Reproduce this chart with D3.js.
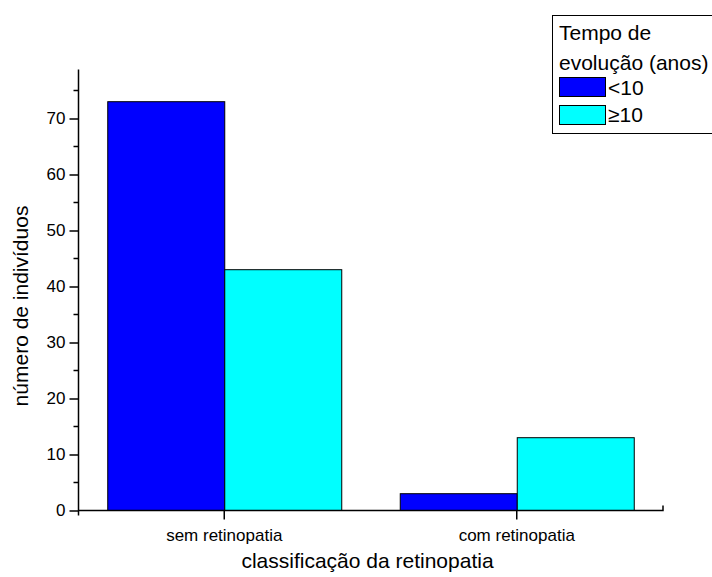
<!DOCTYPE html>
<meta charset="utf-8">
<head>
  <title>Retinopatia</title>
</head>
<body style="margin:0">
<style>
text { font-family: "Liberation Sans", Arial, sans-serif; fill: #000; }
.bar { stroke: #000; stroke-width: 1; }
</style>
<svg width="712" height="577"></svg>
<script src="https://d3js.org/d3.v7.min.js"></script>
<script>

var categories = ["sem retinopatia", "com retinopatia"];
var series = ["<10", "\u226510"];
var under10 = [73, 3];
var over10 = [43, 13];
var yTicks = [0, 10, 20, 30, 40, 50, 60, 70];
var colors = ["#0000ff", "#00ffff"];

var svg = d3.select("svg"),
    x0 = 78, x1 = 663, yTop = 69, yBot = 510;

var x = d3.scaleBand().domain(categories).range([x0, x1]).padding(0);
var y = d3.scaleLinear().domain([0, 78.75]).range([yBot, yTop]);

var rows = categories.map(function(c, i) { return { cat: c, vals: [under10[i], over10[i]] }; });
var bw = x.bandwidth() * 0.4;

// bars
var g = svg.append("g");
rows.forEach(function(r) {
  r.vals.forEach(function(v, j) {
    var cx = x(r.cat) + x.bandwidth() / 2;
    g.append("rect")
      .attr("class", "bar")
      .attr("x", cx + (j - 1) * bw + 0.5)
      .attr("y", y(v) + 0.5)
      .attr("width", bw)
      .attr("height", y(0) - y(v))
      .attr("fill", colors[j]);
  });
});

// y axis
var yAxis = svg.append("g")
  .attr("transform", "translate(" + (x0 + 0.5) + ",0.5)")
  .call(d3.axisLeft(y).tickValues(yTicks).tickSize(9).tickPadding(4));
yAxis.select(".domain").attr("d", "M0," + y(0) + "V" + yTop).attr("stroke-width", 1.5);
yAxis.selectAll(".tick line").attr("stroke-width", 1.5);
yAxis.selectAll(".tick text").style("font-size", "17px").style("font-family", "'Liberation Sans', Arial, sans-serif");
yAxis.selectAll(".minor")
  .data(yTicks.map(function(t) { return t + 5; }))
  .enter().append("line")
  .attr("x1", -5).attr("x2", 0)
  .attr("y1", function(d) { return y(d); })
  .attr("y2", function(d) { return y(d); })
  .attr("stroke", "#000").attr("stroke-width", 1.5);

// x axis
var xAxis = svg.append("g")
  .attr("transform", "translate(0," + (yBot + 0.5) + ")")
  .call(d3.axisBottom(x).tickSize(9).tickPadding(9).tickSizeOuter(0));
xAxis.select(".domain").attr("d", "M" + x0 + ",0H" + x1 + "V-5").attr("stroke-width", 1.5);
xAxis.selectAll(".tick line").attr("stroke-width", 1.5);
xAxis.selectAll(".tick text").style("font-size", "17px").style("font-family", "'Liberation Sans', Arial, sans-serif");
xAxis.append("line")
  .attr("x1", x0 + 0.5).attr("x2", x0 + 0.5)
  .attr("y1", 0).attr("y2", 5)
  .attr("stroke", "#000").attr("stroke-width", 1.5);

// axis titles
svg.append("text")
  .attr("x", (x0 + x1) / 2 - 3)
  .attr("y", 568)
  .attr("text-anchor", "middle")
  .style("font-size", "21px")
  .text("classifica\u00e7\u00e3o da retinopatia");

svg.append("text")
  .attr("transform", "translate(28,306) rotate(-90)")
  .attr("text-anchor", "middle")
  .style("font-size", "21px")
  .text("n\u00famero de indiv\u00edduos");

// legend
var lg = svg.append("g").style("font-size", "21px");
lg.append("rect")
  .attr("x", 552.5).attr("y", 15.5)
  .attr("width", 170).attr("height", 118)
  .attr("fill", "#fff").attr("stroke", "#000").attr("stroke-width", 1);
lg.append("text").attr("x", 559).attr("y", 40).text("Tempo de");
lg.append("text").attr("x", 559).attr("y", 70).text("evolu\u00e7\u00e3o (anos)");
series.forEach(function(s, i) {
  lg.append("rect")
    .attr("class", "bar")
    .attr("x", 559.5).attr("y", 77.5 + i * 28)
    .attr("width", 46).attr("height", 19)
    .attr("fill", colors[i]);
  lg.append("text")
    .attr("x", 608).attr("y", 95 + i * 27)
    .text(s);
});

</script>
</body>
